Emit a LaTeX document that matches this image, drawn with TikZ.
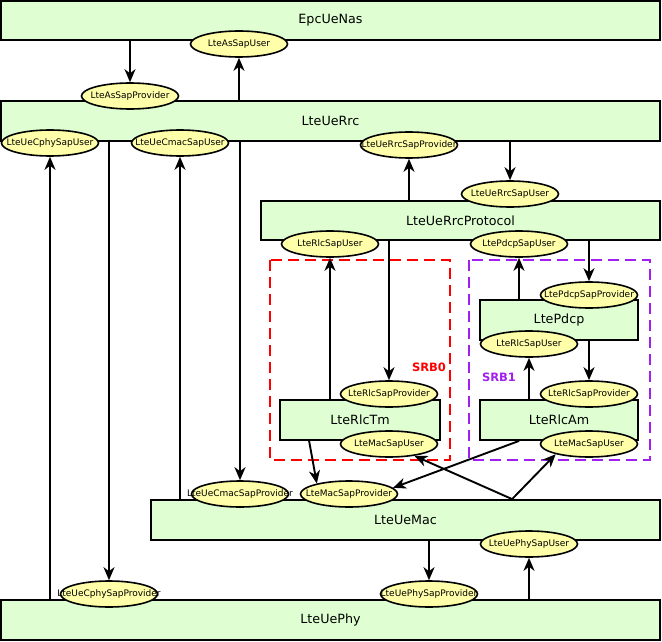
\documentclass[tikz,border=0pt]{standalone}
\usepackage{fontspec}
\setmainfont{DejaVu Sans}
\usepackage{tikz}
\usetikzlibrary{shapes.geometric}
\usetikzlibrary{arrows.meta}
\definecolor{layergreen}{HTML}{DFFFD3}
\definecolor{sapyellow}{HTML}{FFFFAA}
\definecolor{srbpurple}{HTML}{A020F0}
\newcommand{\sapname}[1]{\makebox[0pt]{#1}}

\begin{document}
\begin{tikzpicture}[x=1pt,y=-1pt,
    layer/.style={draw,line width=1.8pt,fill=layergreen,inner sep=0pt,
      font=\fontsize{12.7}{14}\selectfont},
    sap/.style={ellipse,draw,line width=1.6pt,fill=sapyellow,inner sep=0pt,
      minimum width=97pt,minimum height=26pt,font=\fontsize{9}{10}\selectfont},
    link/.style={line width=1.9pt,-{Stealth[length=13pt,width=11pt,inset=4pt]}},
    srb/.style={line width=1.6pt,dash pattern=on 11pt off 6pt},
    srblabel/.style={font=\fontsize{11.5}{13}\selectfont\bfseries}]
  \useasboundingbox (0,0) rectangle (662,642);

  % radio bearers
  \draw[srb,red] (270,260) rectangle (450,460);
  \draw[srb,srbpurple] (469,260) rectangle (650,460);
  \node[srblabel,text=red] (srbzero) at (429,367) {SRB0};
  \node[srblabel,text=srbpurple] (srbone) at (499,377) {SRB1};

  % layers
  \node[layer,minimum width=659pt,minimum height=39pt] (nas) at (330.5,20.5) {EpcUeNas};
  \node[layer,minimum width=659pt,minimum height=40pt] (rrc) at (330.5,121) {LteUeRrc};
  \node[layer,minimum width=399pt,minimum height=39pt] (proto) at (460.5,220.5) {LteUeRrcProtocol};
  \node[layer,minimum width=158pt,minimum height=40pt] (pdcp) at (559,320) {LtePdcp};
  \node[layer,minimum width=160pt,minimum height=40pt] (rlctm) at (360,420) {LteRlcTm};
  \node[layer,minimum width=158pt,minimum height=40pt] (rlcam) at (559,420) {LteRlcAm};
  \node[layer,minimum width=509pt,minimum height=40pt] (mac) at (405.5,520) {LteUeMac};
  \node[layer,minimum width=659pt,minimum height=40pt] (phy) at (330.5,620) {LteUePhy};

  % service access points
  \node[sap] (asuser) at (239,44) {\sapname{LteAsSapUser}};
  \node[sap] (asprov) at (130,96) {\sapname{LteAsSapProvider}};
  \node[sap] (cphyuser) at (50,143) {\sapname{LteUeCphySapUser}};
  \node[sap] (cmacuser) at (180,143) {\sapname{LteUeCmacSapUser}};
  \node[sap] (rrcprov) at (409,145) {\sapname{LteUeRrcSapProvider}};
  \node[sap] (rrcuser) at (510,194) {\sapname{LteUeRrcSapUser}};
  \node[sap] (rlcuserzero) at (330,244) {\sapname{LteRlcSapUser}};
  \node[sap] (pdcpuser) at (519,244) {\sapname{LtePdcpSapUser}};
  \node[sap] (pdcpprov) at (589,295) {\sapname{LtePdcpSapProvider}};
  \node[sap] (rlcuserone) at (529,344) {\sapname{LteRlcSapUser}};
  \node[sap] (rlcprovzero) at (389,394) {\sapname{LteRlcSapProvider}};
  \node[sap] (rlcprovone) at (589,394) {\sapname{LteRlcSapProvider}};
  \node[sap] (macuserzero) at (389,444) {\sapname{LteMacSapUser}};
  \node[sap] (macuserone) at (589,444) {\sapname{LteMacSapUser}};
  \node[sap] (cmacprov) at (240,494) {\sapname{LteUeCmacSapProvider}};
  \node[sap] (macprov) at (349,494) {\sapname{LteMacSapProvider}};
  \node[sap] (phyuser) at (529,544) {\sapname{LteUePhySapUser}};
  \node[sap] (phyprov) at (429,594) {\sapname{LteUePhySapProvider}};
  \node[sap] (cphyprov) at (109,594) {\sapname{LteUeCphySapProvider}};

  \coordinate (rlctmout) at ([xshift=30pt]rlctm.south west);
  \coordinate (rlcamout) at ([xshift=40pt]rlcam.south west);
  \coordinate (macfork) at ([xshift=362pt]mac.north west);

  % connections
  \draw[link] (nas.south -| asprov) -- (asprov.north);
  \draw[link] (rrc.north -| asuser) -- (asuser.south);
  \draw[link] (phy.north -| cphyuser) -- (cphyuser.south);
  \draw[link] (rrc.south -| cphyprov) -- (cphyprov.north);
  \draw[link] (mac.north -| cmacuser) -- (cmacuser.south);
  \draw[link] (rrc.south -| cmacprov) -- (cmacprov.north);
  \draw[link] (proto.north -| rrcprov) -- (rrcprov.south);
  \draw[link] (rrc.south -| rrcuser) -- (rrcuser.north);
  \draw[link] (rlctm.north -| rlcuserzero) -- (rlcuserzero.south);
  \draw[link] (proto.south -| rlcprovzero) -- (rlcprovzero.north);
  \draw[link] (pdcp.north -| pdcpuser) -- (pdcpuser.south);
  \draw[link] (proto.south -| pdcpprov) -- (pdcpprov.north);
  \draw[link] (rlcam.north -| rlcuserone) -- (rlcuserone.south);
  \draw[link] (pdcp.south -| rlcprovone) -- (rlcprovone.north);
  \draw[link] (rlctmout) -- (macprov.162);
  \draw[link] (rlcamout) -- (macprov.8);
  \draw[link] (macfork) -- (macuserzero.-25);
  \draw[link] (macfork) -- (macuserone.197);
  \draw[link] (mac.south -| phyprov) -- (phyprov.north);
  \draw[link] (phy.north -| phyuser) -- (phyuser.south);
\end{tikzpicture}
\end{document}
